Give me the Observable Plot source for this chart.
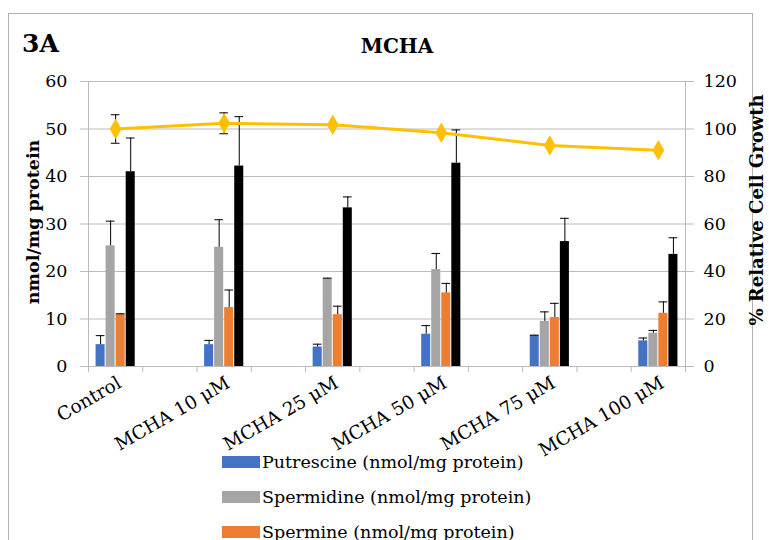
<!DOCTYPE html>
<html><head><meta charset="utf-8">
<script src="https://cdn.jsdelivr.net/npm/d3@7"></script>
<script src="https://cdn.jsdelivr.net/npm/@observablehq/plot@0.6"></script>
<style>
body{margin:0;background:#fff;}
#wrap{position:relative;width:769px;height:540px;overflow:hidden;font-family:"DejaVu Serif",serif;}
#wrap svg{position:absolute;left:0;top:0;}
</style></head><body><div id="wrap"></div>
<script>
const categories = ["Control","MCHA 10 μM","MCHA 25 μM","MCHA 50 μM","MCHA 75 μM","MCHA 100 μM"];
const putrescine    = [4.6, 4.6, 4.1, 6.8, 6.5, 5.4];
const putrescineErr = [1.9, 0.9, 0.6, 1.8, 0.1, 0.6];
const spermidine    = [25.4, 25.1, 18.5, 20.4, 9.5, 7.0];
const spermidineErr = [5.2, 5.8, 0.1, 3.4, 2.0, 0.6];
const spermine      = [11.0, 12.4, 10.9, 15.5, 10.3, 11.2];
const spermineErr   = [0.1, 3.7, 1.8, 2.0, 3.0, 2.4];
const total         = [41.0, 42.2, 33.4, 42.8, 26.3, 23.6];
const totalErr      = [7.1, 10.4, 2.3, 7.0, 4.9, 3.5];
const growth        = [100, 102.4, 101.8, 98.4, 93.1, 91.1];
const growthErr     = [6.0, 4.4, 0, 0, 0, 0];
const leftTicks  = [0, 10, 20, 30, 40, 50, 60];
const rightTicks = [0, 20, 40, 60, 80, 100, 120];
const seriesNames = ["Putrescine (nmol/mg protein)","Spermidine (nmol/mg protein)","Spermine (nmol/mg protein)","Total polyamines (nmol/mg protein)"];
const seriesColors = ["#4472C4","#A5A5A5","#ED7D31","#000000"];
const seriesValues = [putrescine, spermidine, spermine, total];
const seriesErrs = [putrescineErr, spermidineErr, spermineErr, totalErr];

const W = 769, H = 540;
const nSlots = categories.length * 2 - 1; // empty slot between categories
const pos = categories.map((c, i) => 2 * i + 0.5);
const barW = 0.185;

const barMarks = [];
seriesNames.forEach((name, si) => {
  const rows = categories.map((c, i) => {
    const x1 = pos[i] - 2 * barW + barW * si;
    return {cat: c, x1, x2: x1 + barW, xc: x1 + barW / 2, v: seriesValues[si][i], e: seriesErrs[si][i]};
  });
  barMarks.push(Plot.rectY(rows, {x1: "x1", x2: "x2", y1: 0, y2: "v", fill: seriesColors[si], insetLeft: 0.5, insetRight: 0.5}));
  barMarks.push(Plot.ruleX(rows, {x: "xc", y1: "v", y2: d => d.v + d.e, stroke: "#000", strokeWidth: 1}));
  barMarks.push(Plot.ruleY(rows, {y: d => d.v + d.e, x1: d => d.xc - 0.08, x2: d => d.xc + 0.08, stroke: "#000", strokeWidth: 1}));
});

const gRows = categories.map((c, i) => ({cat: c, x: pos[i], g: growth[i] / 2, e: growthErr[i] / 2}));
const gErrRows = gRows.filter(d => d.e > 0);

const chart = Plot.plot({
  width: W, height: H,
  marginLeft: 88, marginRight: 84, marginTop: 81, marginBottom: H - 366,
  x: {type: "linear", domain: [0, nSlots], axis: null},
  y: {domain: [0, 60], axis: null},
  style: {fontFamily: "DejaVu Serif, serif", fontSize: "17.5px", color: "#000", background: "transparent", overflow: "visible"},
  marks: [
    Plot.gridY(leftTicks, {stroke: "#BBBBBB", strokeOpacity: 1}),
    Plot.frame({stroke: "#BBBBBB"}),
    Plot.axisX(d3.range(nSlots + 1), {tickSize: 6, tickFormat: () => "", stroke: "#BBBBBB", strokeOpacity: 1}),
    Plot.axisY(leftTicks, {anchor: "left", tickSize: 8, tickPadding: 13, stroke: "#BBBBBB", strokeOpacity: 1, fill: "#000", label: null}),
    Plot.axisY(leftTicks, {anchor: "right", tickSize: 8, tickPadding: 10, tickFormat: (d, i) => rightTicks[i], stroke: "#BBBBBB", strokeOpacity: 1, fill: "#000", label: null}),
    ...barMarks,
    Plot.ruleX(gErrRows, {x: "x", y1: d => d.g - d.e, y2: d => d.g + d.e, stroke: "#000"}),
    Plot.ruleY(gErrRows, {y: d => d.g + d.e, x1: d => d.x - 0.08, x2: d => d.x + 0.08, stroke: "#000"}),
    Plot.ruleY(gErrRows, {y: d => d.g - d.e, x1: d => d.x - 0.08, x2: d => d.x + 0.08, stroke: "#000"}),
    Plot.line(gRows, {x: "x", y: "g", stroke: "#FFC000", strokeWidth: 3}),
    Plot.dot(gRows, {x: "x", y: "g", symbol: "diamond", r: 6.2, fill: "#FFC000", stroke: "none"}),
    Plot.text(gRows, {x: "x", y: 0, text: "cat", rotate: -30, textAnchor: "end", dx: 4, dy: 15, fontSize: 18.5, fill: "#000"})
  ]
});

const wrap = document.getElementById("wrap");
const ov = d3.select(wrap).append("svg").attr("width", W).attr("height", H);
ov.append("rect").attr("x", 8.5).attr("y", 13.5).attr("width", 744).attr("height", 600)
  .attr("fill", "#fff").attr("stroke", "#B0B0B0");
wrap.appendChild(chart);
const ov2 = d3.select(wrap).append("svg").attr("width", W).attr("height", H)
  .style("font-family", "DejaVu Serif, serif");
ov2.append("text").attr("x", 22).attr("y", 52).attr("font-size", 25).attr("font-weight", "bold").text("3A");
ov2.append("text").attr("x", 397).attr("y", 53).attr("text-anchor", "middle").attr("font-size", 20).attr("font-weight", "bold").text("MCHA");
ov2.append("text").attr("transform", "translate(33,222) rotate(-90)").attr("text-anchor", "middle").attr("dominant-baseline", "central")
  .attr("font-size", 17.5).attr("font-weight", "bold").text("nmol/mg protein");
ov2.append("text").attr("transform", "translate(756,210) rotate(-90)").attr("text-anchor", "middle").attr("dominant-baseline", "central")
  .attr("font-size", 18).attr("font-weight", "bold").text("% Relative Cell Growth");
const lg = ov2.append("g");
seriesNames.forEach((name, i) => {
  const cy = 462 + i * 35;
  lg.append("rect").attr("x", 222).attr("y", cy - 6).attr("width", 38).attr("height", 12).attr("fill", seriesColors[i]);
  lg.append("text").attr("x", 262).attr("y", cy).attr("dominant-baseline", "central").attr("font-size", 17.5).text(name);
});
</script></body></html>
